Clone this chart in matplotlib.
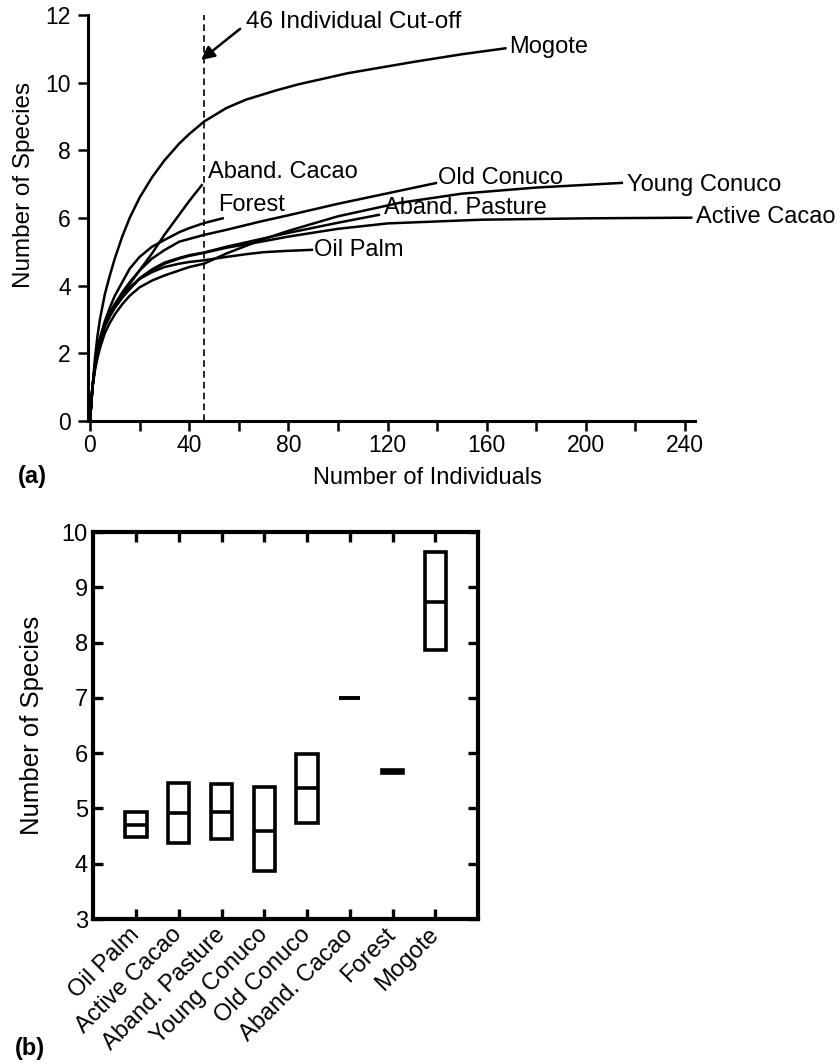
import matplotlib
matplotlib.use("Agg")
import matplotlib.pyplot as plt
from matplotlib.patches import Rectangle

plt.rcParams['font.family'] = ['Liberation Sans', 'DejaVu Sans']

# ---------------- Panel (a): rarefaction curves ----------------
mogote_x = [0, 1, 2, 3, 4, 6, 8, 10, 13, 16, 20, 25, 30, 36, 40, 46, 55, 63, 75, 84, 104, 131, 150, 168]
mogote_y = [0, 1, 1.85, 2.5, 3.0, 3.75, 4.3, 4.8, 5.45, 6.0, 6.6, 7.2, 7.7, 8.2, 8.48, 8.85, 9.25, 9.5, 9.77, 9.95, 10.28, 10.62, 10.84, 11.02]

abcacao_x = [0, 1, 2, 3, 4, 6, 8, 10, 13, 16, 20, 25, 30, 35, 40, 45.4]
abcacao_y = [0, 1, 1.6, 2.05, 2.4, 2.9, 3.2, 3.45, 3.75, 4.05, 4.45, 4.95, 5.5, 6.0, 6.5, 7.0]

forest_x = [0, 1, 2, 3, 4, 6, 8, 10, 13, 16, 20, 25, 30, 36, 40, 46, 54]
forest_y = [0, 1, 1.65, 2.1, 2.45, 2.95, 3.35, 3.7, 4.1, 4.5, 4.85, 5.15, 5.35, 5.58, 5.7, 5.85, 6.0]

oldcon_x = [0, 1, 2, 3, 4, 6, 8, 10, 13, 16, 20, 25, 30, 36, 40, 46, 55, 69, 80, 100, 120, 140]
oldcon_y = [0, 1, 1.6, 2.0, 2.35, 2.85, 3.2, 3.45, 3.8, 4.1, 4.45, 4.8, 5.05, 5.3, 5.38, 5.5, 5.65, 5.9, 6.08, 6.42, 6.73, 7.04]

youngcon_x = [0, 1, 2, 3, 4, 6, 8, 10, 13, 16, 20, 25, 30, 36, 40, 46, 55, 69, 80, 100, 125, 150, 180, 215]
youngcon_y = [0, 1, 1.5, 1.85, 2.15, 2.6, 2.9, 3.15, 3.45, 3.7, 3.95, 4.15, 4.3, 4.45, 4.55, 4.65, 4.95, 5.35, 5.62, 6.05, 6.45, 6.72, 6.9, 7.04]

activecac_x = [0, 1, 2, 3, 4, 6, 8, 10, 13, 16, 20, 25, 30, 36, 40, 46, 55, 69, 80, 100, 120, 158, 200, 243]
activecac_y = [0, 1, 1.6, 2.0, 2.35, 2.8, 3.1, 3.35, 3.65, 3.9, 4.2, 4.45, 4.65, 4.8, 4.88, 4.97, 5.12, 5.3, 5.45, 5.68, 5.84, 5.95, 5.99, 6.01]

abpast_x = [0, 1, 2, 3, 4, 6, 8, 10, 13, 16, 20, 25, 30, 36, 40, 46, 55, 69, 80, 100, 117]
abpast_y = [0, 1, 1.6, 2.0, 2.35, 2.8, 3.1, 3.35, 3.65, 3.9, 4.22, 4.48, 4.68, 4.82, 4.9, 4.98, 5.15, 5.38, 5.56, 5.86, 6.1]

oilpalm_x = [0, 1, 2, 3, 4, 6, 8, 10, 13, 16, 20, 25, 30, 36, 40, 46, 55, 63, 70, 80, 90]
oilpalm_y = [0, 1, 1.6, 2.0, 2.35, 2.85, 3.15, 3.4, 3.7, 3.95, 4.2, 4.4, 4.55, 4.65, 4.7, 4.75, 4.85, 4.93, 4.99, 5.03, 5.06]

curve_names = ["Mogote", "Aband. Cacao", "Forest", "Old Conuco", "Young Conuco",
               "Active Cacao", "Aband. Pasture", "Oil Palm"]
curve_xs = [mogote_x, abcacao_x, forest_x, oldcon_x, youngcon_x, activecac_x, abpast_x, oilpalm_x]
curve_ys = [mogote_y, abcacao_y, forest_y, oldcon_y, youngcon_y, activecac_y, abpast_y, oilpalm_y]
# label offsets from each curve end (layout only)
label_offsets = [(1.0, 0.03), (2.0, 0.35), (-2.3, 0.39), (0.5, 0.13), (1.5, -0.06),
                 (1.5, 0.03), (1.5, 0.19), (0.5, 0.0)]

cutoff = 46
cutoff_text = "46 Individual Cut-off"

# ---------------- Panel (b): species at 46 individuals ----------------
b_categories = ["Oil Palm", "Active Cacao", "Aband. Pasture", "Young Conuco",
                "Old Conuco", "Aband. Cacao", "Forest", "Mogote"]
b_lower = [4.49, 4.38, 4.45, 3.87, 4.74, 7.0, 5.64, 7.86]
b_median = [4.70, 4.92, 4.94, 4.60, 5.37, 7.0, 5.66, 8.74]
b_upper = [4.94, 5.46, 5.44, 5.39, 5.98, 7.0, 5.69, 9.64]

fig = plt.figure(figsize=(8.4, 10.64), dpi=100)

# ---- axes (a)
W, H = 840.0, 1064.0
ax1 = fig.add_axes([87.5 / W, 1 - 421 / H, (695 - 87.5) / W, (421 - 15) / H])
for xs, ys in zip(curve_xs, curve_ys):
    ax1.plot(xs, ys, color='black', lw=1.8, solid_capstyle='butt',
             solid_joinstyle='round')
for name, xs, ys, (dx, dy) in zip(curve_names, curve_xs, curve_ys, label_offsets):
    ax1.text(xs[-1] + dx, ys[-1] + dy, name, fontsize=17, ha='left', va='center')

ax1.plot([cutoff, cutoff], [0, 12], color='black', lw=1.2, dashes=(4, 2.5))
ax1.annotate(cutoff_text, xy=(44.8, 10.67), xytext=(63, 11.8), fontsize=17.5,
             ha='left', va='center',
             arrowprops=dict(arrowstyle='-|>', lw=1.8, color='black',
                             mutation_scale=20, shrinkA=3, shrinkB=0,
                             relpos=(0.0, 0.4)))

ax1.set_xlim(-1, 244)
ax1.set_ylim(0, 12)
ax1.spines['top'].set_visible(False)
ax1.spines['right'].set_visible(False)
ax1.spines['left'].set_linewidth(2.2)
ax1.spines['bottom'].set_linewidth(2.2)
xt = list(range(0, 241, 20))
ax1.set_xticks(xt)
ax1.set_xticklabels([str(v) if v % 40 == 0 else '' for v in xt])
ax1.set_yticks(range(0, 13, 2))
ax1.tick_params(direction='out', length=7, width=1.8, labelsize=16.5, pad=2)
ax1.tick_params(axis='y', pad=5)
ax1.set_xlabel("Number of Individuals", fontsize=17)
ax1.xaxis.set_label_coords(0.559, -0.113)
ax1.set_ylabel("Number of Species", fontsize=17.5)
ax1.yaxis.set_label_coords(-0.086, 0.581)
fig.text(18 / W, 1 - 476 / H, "(a)", fontsize=17, fontweight='bold', ha='left', va='center')

# ---- axes (b)
ax2 = fig.add_axes([93.3 / W, 1 - 919 / H, (478 - 93.3) / W, (919 - 532) / H])
pos = list(range(1, len(b_categories) + 1))
bw = 0.5
for p, lo, md, hi in zip(pos, b_lower, b_median, b_upper):
    ax2.add_patch(Rectangle((p - bw / 2, lo), bw, hi - lo, fill=False,
                            edgecolor='black', lw=2.6, joinstyle='miter'))
    ax2.plot([p - bw / 2, p + bw / 2], [md, md], color='black', lw=2.6,
             solid_capstyle='butt')
ax2.set_xlim(0, 9)
ax2.set_ylim(3, 10)
for s in ax2.spines.values():
    s.set_linewidth(3.0)
ax2.set_xticks(pos)
ax2.set_xticklabels(b_categories, rotation=45, ha='right', va='center',
                    rotation_mode='anchor', fontsize=18.5)
ax2.set_yticks(range(3, 11))
ax2.tick_params(direction='in', length=7, width=2.4, labelsize=17,
                top=True, right=True)
ax2.tick_params(axis='y', pad=4)
ax2.tick_params(axis='x', pad=9)
ax2.set_ylabel("Number of Species", fontsize=18.5)
ax2.yaxis.set_label_coords(-0.128, 0.5)
fig.text(15 / W, 1 - 1048 / H, "(b)", fontsize=17, fontweight='bold', ha='left', va='center')

fig.savefig("out.png", dpi=100)
